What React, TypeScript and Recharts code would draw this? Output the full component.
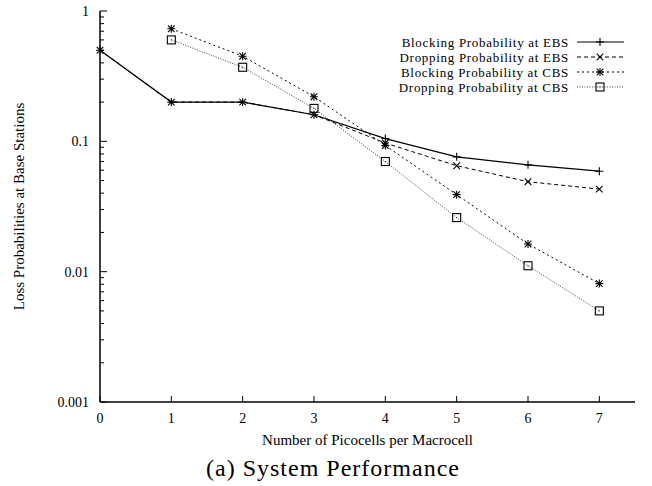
import { LineChart, Line, XAxis, YAxis, Label } from "recharts";

const picocells = [0, 1, 2, 3, 4, 5, 6, 7];
const blockingEBS = [0.5, 0.2, 0.2, 0.16, 0.105, 0.076, 0.066, 0.059];
const droppingEBS = [0.5, 0.2, 0.2, 0.16, 0.097, 0.065, 0.049, 0.043];
const blockingCBS = [null, 0.73, 0.45, 0.22, 0.093, 0.039, 0.0163, 0.0081];
const droppingCBS = [null, 0.6, 0.37, 0.179, 0.07, 0.026, 0.0111, 0.005];

const xTicks = [0, 1, 2, 3, 4, 5, 6, 7];
const decades = [0.001, 0.01, 0.1, 1];
const decadeLabels = ["0.001", "0.01", "0.1", "1"];

const seriesNames = [
  "Blocking Probability at EBS",
  "Dropping Probability at EBS",
  "Blocking Probability at CBS",
  "Dropping Probability at CBS",
];

const data = picocells.map((n, i) => ({
  n,
  bEBS: blockingEBS[i],
  dEBS: droppingEBS[i],
  bCBS: blockingCBS[i],
  dCBS: droppingCBS[i],
}));

// major + minor ticks for the log axis
const yTicks: number[] = [];
decades.forEach((d, i) => {
  yTicks.push(d);
  if (i < decades.length - 1) {
    for (let k = 2; k <= 9; k++) yTicks.push(+(d * k).toPrecision(3));
  }
});

const FONT = "'Liberation Serif', 'Times New Roman', serif";

type Shape = "plus" | "cross" | "star" | "square";

const Marker = ({ cx, cy, shape }: { cx: number; cy: number; shape: Shape }) => {
  const s = 4;
  const plus = (
    <>
      <line x1={cx - s} y1={cy} x2={cx + s} y2={cy} />
      <line x1={cx} y1={cy - s} x2={cx} y2={cy + s} />
    </>
  );
  const cross = (
    <>
      <line x1={cx - 3.3} y1={cy - 3.3} x2={cx + 3.3} y2={cy + 3.3} />
      <line x1={cx - 3.3} y1={cy + 3.3} x2={cx + 3.3} y2={cy - 3.3} />
    </>
  );
  return (
    <g stroke="#000" strokeWidth={1.1} fill="none">
      {shape === "plus" && plus}
      {shape === "cross" && cross}
      {shape === "star" && (
        <>
          {plus}
          {cross}
        </>
      )}
      {shape === "square" && (
        <>
          <rect x={cx - 4} y={cy - 4} width={8} height={8} />
          <rect x={cx - 0.5} y={cy - 0.5} width={1} height={1} fill="#000" stroke="none" />
        </>
      )}
    </g>
  );
};

const makeDot = (shape: Shape) => (props: any) => {
  const { cx, cy, index, value } = props;
  if (cx == null || cy == null || value == null) return <g key={`e-${shape}-${index}`} />;
  return <Marker key={`${shape}-${index}`} cx={cx} cy={cy} shape={shape} />;
};

const BottomTick = ({ x, y, payload }: any) => (
  <g>
    <line x1={x} y1={y} x2={x} y2={y - 6} stroke="#000" />
    <text x={x} y={y + 21} textAnchor="middle" fontSize={14} fontFamily={FONT} fill="#000">
      {payload.value}
    </text>
  </g>
);

const TopTick = ({ x, y }: any) => (
  <line x1={x} y1={y} x2={x} y2={y + 6} stroke="#000" />
);

const isMajor = (v: number) => decades.some((d) => Math.abs(d - v) < d * 1e-6);

const LeftTick = ({ x, y, payload }: any) => {
  const v = payload.value;
  const major = isMajor(v);
  const idx = decades.findIndex((d) => Math.abs(d - v) < d * 1e-6);
  return (
    <g>
      <line x1={x} y1={y} x2={x + (major ? 7 : 4)} y2={y} stroke="#000" />
      {major && (
        <text x={x - 11} y={y + 5} textAnchor="end" fontSize={14} fontFamily={FONT} fill="#000">
          {decadeLabels[idx]}
        </text>
      )}
    </g>
  );
};

const RightTick = ({ x, y, payload }: any) => {
  const major = isMajor(payload.value);
  return <line x1={x} y1={y} x2={x - (major ? 7 : 4)} y2={y} stroke="#000" />;
};

const legendStyles = [
  { dash: undefined, shape: "plus" as Shape, color: "#000" },
  { dash: "4 3", shape: "cross" as Shape, color: "#000" },
  { dash: "2 3", shape: "star" as Shape, color: "#000" },
  { dash: "1 1.5", shape: "square" as Shape, color: "#444" },
];

const App = () => {
  return (
    <div style={{ position: "absolute", left: 0, top: 0, width: 652, height: 486, background: "#fff" }}>
      <LineChart
        width={652}
        height={486}
        data={data}
        margin={{ top: 11, right: 17, left: 0, bottom: 0 }}
      >
        <XAxis
          dataKey="n"
          type="number"
          domain={[0, 7.5]}
          ticks={xTicks}
          interval={0}
          height={84}
          tickSize={0}
          tickMargin={0}
          tick={<BottomTick />}
          axisLine={{ stroke: "#000", strokeWidth: 1.5 }}
        >
          <Label
            content={({ viewBox }: any) => (
              <text
                x={viewBox.x + viewBox.width / 2}
                y={viewBox.y + 43}
                textAnchor="middle"
                fontSize={15}
                fontFamily={FONT}
                fill="#000"
              >
                Number of Picocells per Macrocell
              </text>
            )}
          />
        </XAxis>
        <XAxis
          xAxisId="top"
          orientation="top"
          dataKey="n"
          type="number"
          domain={[0, 7.5]}
          ticks={xTicks}
          interval={0}
          height={0}
          tickSize={0}
          tickMargin={0}
          tick={<TopTick />}
          axisLine={{ stroke: "#000", strokeWidth: 1.5 }}
        />
        <YAxis
          type="number"
          scale="log"
          domain={[0.001, 1]}
          allowDataOverflow
          ticks={yTicks}
          interval={0}
          width={100}
          tickSize={0}
          tickMargin={0}
          tick={<LeftTick />}
          axisLine={{ stroke: "#000", strokeWidth: 1.5 }}
        >
          <Label
            content={({ viewBox }: any) => {
              const cx = 21;
              const cy = viewBox.y + viewBox.height / 2;
              return (
                <text
                  x={cx}
                  y={cy}
                  transform={`rotate(-90 ${cx} ${cy})`}
                  textAnchor="middle"
                  dominantBaseline="middle"
                  fontSize={15}
                  fontFamily={FONT}
                  fill="#000"
                >
                  Loss Probabilities at Base Stations
                </text>
              );
            }}
          />
        </YAxis>
        <YAxis
          yAxisId="right"
          orientation="right"
          type="number"
          scale="log"
          domain={[0.001, 1]}
          allowDataOverflow
          ticks={yTicks}
          interval={0}
          width={0}
          tickSize={0}
          tickMargin={0}
          tick={<RightTick />}
          axisLine={{ stroke: "#000", strokeWidth: 1.5 }}
        />
        <Line
          dataKey="bEBS"
          stroke="#000"
          strokeWidth={1.2}
          dot={makeDot("plus")}
          activeDot={false}
          isAnimationActive={false}
        />
        <Line
          dataKey="dEBS"
          stroke="#000"
          strokeWidth={1}
          strokeDasharray="4 3"
          dot={makeDot("cross")}
          activeDot={false}
          isAnimationActive={false}
        />
        <Line
          dataKey="bCBS"
          stroke="#000"
          strokeWidth={1}
          strokeDasharray="2 3"
          dot={makeDot("star")}
          activeDot={false}
          isAnimationActive={false}
        />
        <Line
          dataKey="dCBS"
          stroke="#444"
          strokeWidth={1}
          strokeDasharray="1 1.5"
          dot={makeDot("square")}
          activeDot={false}
          isAnimationActive={false}
        />
      </LineChart>
      <svg
        width={652}
        height={486}
        style={{ position: "absolute", left: 0, top: 0, pointerEvents: "none" }}
      >
        {seriesNames.map((name, i) => {
          const y = 42 + i * 15;
          const st = legendStyles[i];
          return (
            <g key={name}>
              <text
                x={569}
                y={y + 4.5}
                textAnchor="end"
                fontSize={13}
                letterSpacing={0.7}
                fontFamily={FONT}
                fill="#000"
              >
                {name}
              </text>
              <line
                x1={577}
                y1={y}
                x2={624}
                y2={y}
                stroke={st.color}
                strokeWidth={i === 0 ? 1.2 : 1}
                strokeDasharray={st.dash}
              />
              <Marker cx={600} cy={y} shape={st.shape} />
            </g>
          );
        })}
        <text
          x={333}
          y={476}
          textAnchor="middle"
          fontSize={24}
          letterSpacing={1}
          fontFamily={FONT}
          fill="#000"
        >
          (a) System Performance
        </text>
      </svg>
    </div>
  );
};

export default App;
